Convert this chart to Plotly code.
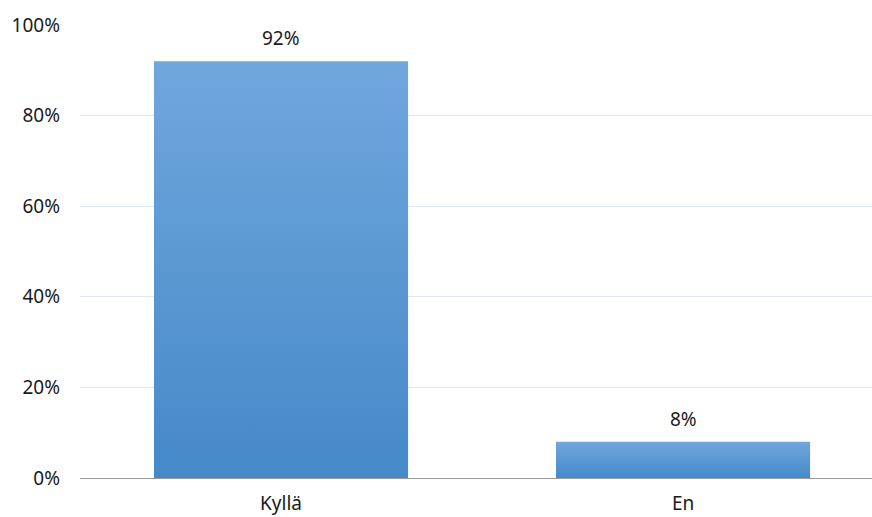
import plotly.graph_objects as go

categories = ["Kyllä", "En"]
values = [0.92, 0.08]
tick_vals = [0, 0.2, 0.4, 0.6, 0.8, 1.0]
tick_text = ["0%", "20%", "40%", "60%", "80%", "100%"]

bar_width = 0.632
font_family = "Noto Sans, Open Sans, sans-serif"

fig = go.Figure()

# Bars drawn as filled polygons so they can carry a vertical gradient
for i, (cat, v) in enumerate(zip(categories, values)):
    x0, x1 = i - bar_width / 2, i + bar_width / 2
    fig.add_trace(go.Scatter(
        x=[x0, x1, x1, x0, x0],
        y=[0, 0, v, v, 0],
        mode="lines",
        line=dict(width=0),
        fill="toself",
        fillgradient=dict(
            type="vertical",
            colorscale=[[0, "#4589c8"], [1, "#70a7dd"]],
        ),
        hoverinfo="skip",
        showlegend=False,
    ))
    fig.add_annotation(
        x=i, y=v, text=f"{round(v * 100)}%",
        showarrow=False, yanchor="bottom", yshift=8,
        font=dict(family=font_family, size=19, color="#1a1a1a"),
    )

fig.update_layout(
    width=872, height=517,
    margin=dict(l=80, r=0, t=25, b=39),
    plot_bgcolor="white", paper_bgcolor="white",
    font=dict(family=font_family, size=19, color="#1a1a1a"),
    xaxis=dict(
        range=[-0.5, 1.47],
        tickvals=list(range(len(categories))),
        ticktext=categories,
        showgrid=False, zeroline=False,
        showline=False, ticks="",
        ticklabelstandoff=12,
        automargin=False,
        fixedrange=True,
    ),
    yaxis=dict(
        range=[0, 1],
        tickvals=tick_vals,
        ticktext=tick_text,
        showgrid=True, gridcolor="#dfe7f1", gridwidth=1,
        zeroline=True, zerolinecolor="#9a9a9a", zerolinewidth=1,
        showline=False, ticks="",
        ticklabelstandoff=19,
        automargin=False,
        fixedrange=True,
    ),
)

fig.write_html("out.html")
